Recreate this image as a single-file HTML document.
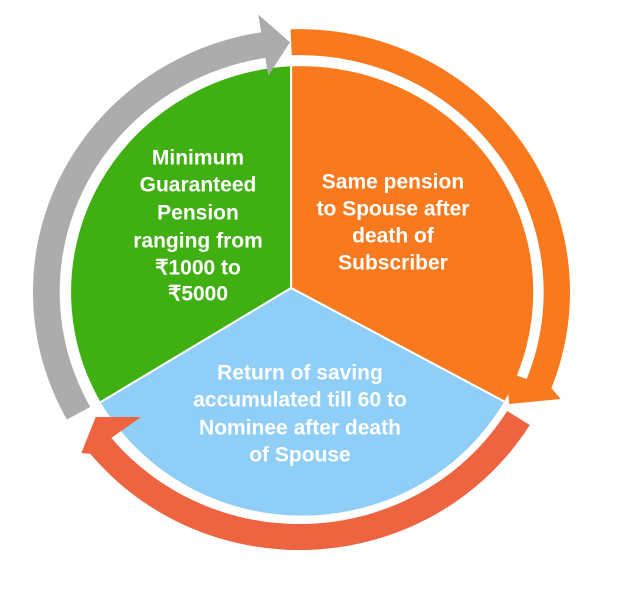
<!DOCTYPE html>
<html><head><meta charset="utf-8"><style>
html,body{margin:0;padding:0;background:#fff;width:631px;height:598px;overflow:hidden}
svg{display:block}
text{font-family:"Liberation Sans",sans-serif;font-weight:bold;font-size:21px;fill:#fff;text-anchor:middle;dominant-baseline:central}
</style></head><body>
<svg width="631" height="598" viewBox="0 0 631 598">
<g transform="translate(3.14,0) scale(1.0286,1)">
<path d="M280,288 L93.9,402.7 A227 227 0 0 1 280,65.3 Z" fill="#3FAF12" stroke="#fff" stroke-width="2"/>
<path d="M280,288 L280,65.3 A227 227 0 0 1 488,402 Z" fill="#F97A1E" stroke="#fff" stroke-width="2"/>
<path d="M280,288 L488,402 A227 227 0 0 1 93.9,402.7 Z" fill="#8ECEF7" stroke="#fff" stroke-width="2"/>
<path d="M62,419.5 A263 263 0 0 1 250.9,32.2 L248,14.5 L278.9,42.3 L257.7,75.7 L254.9,57.9 A237 237 0 0 0 84.7,406.9 Z" fill="#ACACAC"/>
<path d="M279.4,29.3 A263 263 0 0 1 533,388 L542,399 L492,404 L489,372 L509,379 A237 237 0 0 0 280.6,55.3 Z" fill="#F97A1E"/>
<path d="M512,425 A263 263 0 0 1 84.8,453.9 L76,453 L90,417 L134,417 L105.2,437.9 A237 237 0 0 0 490,411 Z" fill="#EF6440"/>
</g>
<text x="198" y="158">Minimum</text>
<text x="198" y="185">Guaranteed</text>
<text x="198" y="213">Pension</text>
<text x="198" y="241">ranging from</text>
<text x="198" y="268">₹1000 to</text>
<text x="198" y="294">₹5000</text>
<text x="393" y="182">Same pension</text>
<text x="393" y="209">to Spouse after</text>
<text x="393" y="236">death of</text>
<text x="393" y="263">Subscriber</text>
<text x="300" y="373">Return of saving</text>
<text x="300" y="400">accumulated till 60 to</text>
<text x="300" y="428">Nominee after death</text>
<text x="300" y="455">of Spouse</text>
</svg>
</body></html>
